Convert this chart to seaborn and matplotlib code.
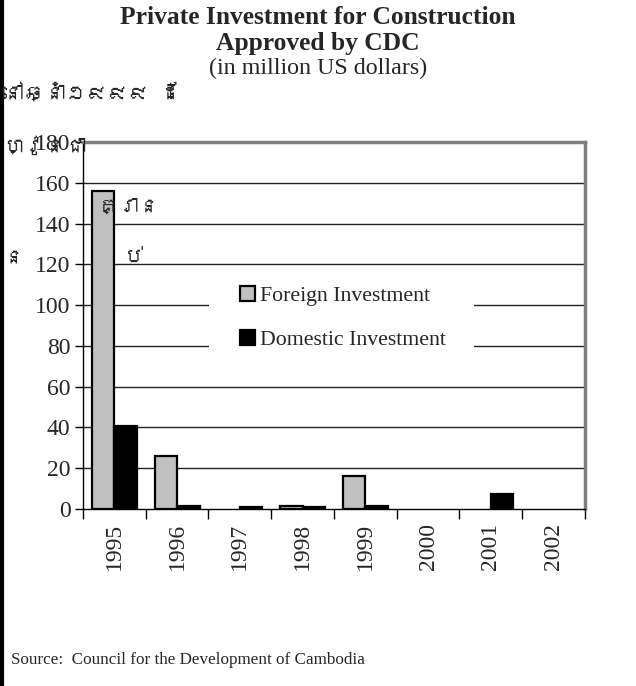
import numpy as np
import pandas as pd
import matplotlib
matplotlib.use("Agg")
import matplotlib.pyplot as plt
import seaborn as sns
from matplotlib import font_manager, ft2font
from matplotlib.patches import Rectangle

years = ["1995", "1996", "1997", "1998", "1999", "2000", "2001", "2002"]
foreign = [156, 25.8, 0, 1.3, 16.2, 0, 0, 0]
domestic = [40.8, 1.6, 0.8, 1.1, 1.5, 0, 7.2, 0]
series_names = ["Foreign Investment", "Domestic Investment"]
yticks = [0, 20, 40, 60, 80, 100, 120, 140, 160, 180]

title1 = "Private Investment for Construction"
title2 = "Approved by CDC"
subtitle = "(in million US dollars)"
source = "Source:  Council for the Development of Cambodia"
khmer_bits = ["នៅឆ្នាំ១៩៩៩ ដែ", "ហ្វូនជា", "គ្រាន", "ន", "ប់"]

df = pd.DataFrame({
    "year": years * 2,
    "value": foreign + domestic,
    "series": [series_names[0]] * len(years) + [series_names[1]] * len(years),
})

sns.set_theme(style="white")
plt.rcParams["font.family"] = ["Liberation Serif", "DejaVu Serif"]

fig = plt.figure(figsize=(6.36, 6.86), dpi=100)
ax = fig.add_axes([0.1305, 0.258, 0.7893, 0.535])

sns.barplot(data=df, x="year", y="value", hue="series", order=years,
            hue_order=series_names, palette=["#c0c0c0", "#000000"],
            edgecolor="black", linewidth=1.6, width=0.72, gap=0,
            ax=ax, zorder=3)
for p in ax.patches:
    if p.get_height() == 0:
        p.set_linewidth(0)

ax.set_ylim(0, 180)
ax.set_xlim(-0.5, len(years) - 0.5)
ax.set_yticks(yticks)
ax.set_yticklabels([str(t) for t in yticks], fontsize=17)
for t in yticks[1:-1]:
    ax.axhline(t, color="#222222", linewidth=1.0, zorder=1)

ax.set_xticks(np.arange(-0.5, len(years), 1.0))
ax.set_xticklabels([])
ax.set_xticks(np.arange(len(years)), minor=True)
ax.set_xticklabels(years, minor=True, rotation=90, fontsize=17)
ax.tick_params(axis="x", which="major", direction="out", length=7, width=1, color="black", bottom=True)
ax.tick_params(axis="x", which="minor", length=0, pad=10, bottom=True)
ax.tick_params(axis="y", direction="out", length=6, width=1, color="black", pad=3, left=True)
ax.set_xlabel("")
ax.set_ylabel("")

for s in ["left", "bottom"]:
    ax.spines[s].set_color("black")
    ax.spines[s].set_linewidth(1.0)
for s in ["top", "right"]:
    ax.spines[s].set_color("#808080")
    ax.spines[s].set_linewidth(2.5)

leg = ax.legend(loc="center", bbox_to_anchor=(342.5 / 636, 1 - 318 / 686),
                bbox_transform=fig.transFigure,
                prop={"family": "Liberation Serif", "size": 15.7},
                frameon=False, borderpad=0,
                labelspacing=1.08, handlelength=0.72, handleheight=0.72,
                handletextpad=0.2, borderaxespad=0)
leg.set_zorder(6)
for h in leg.legend_handles:
    h.set_edgecolor("black")
    h.set_linewidth(1.6)

fig.canvas.draw()
bb = leg.get_window_extent()
W, H = fig.bbox.width, fig.bbox.height
rect = Rectangle(((bb.x0 - 31) / W, (bb.y0 - 12) / H),
                 (bb.width + 60) / W, (bb.height + 24) / H,
                 transform=fig.transFigure, facecolor="white", edgecolor="none", zorder=2)
ax.add_artist(rect)
rect.set_clip_on(False)

fig.text(0.5, 0.9752, title1, ha="center", va="center", fontsize=18.4, fontweight="bold")
fig.text(0.5, 0.9359, title2, ha="center", va="center", fontsize=18.4, fontweight="bold")
fig.text(0.5, 0.9, subtitle, ha="center", va="center", fontsize=17.3)
fig.text(0.018, 0.038, source, ha="left", va="center", fontsize=12.3)

fig.add_artist(plt.Line2D([0.0025, 0.0025], [0, 1], transform=fig.transFigure, color="black", linewidth=3))

khmer_font = None
for f in font_manager.fontManager.ttflist:
    try:
        cm = ft2font.FT2Font(f.fname).get_charmap()
        if 0x1780 in cm and 0x17D2 in cm:
            khmer_font = f.name
            break
    except Exception:
        pass
if khmer_font:
    pos = [(0.005, 0.864), (0.005, 0.787), (0.154, 0.698), (0.005, 0.625), (0.193, 0.625)]
    for s, (x, y) in zip(khmer_bits, pos):
        fig.text(x, y, s, ha="left", va="center", fontsize=15, family=[khmer_font])

fig.savefig("out.png", dpi=100)
